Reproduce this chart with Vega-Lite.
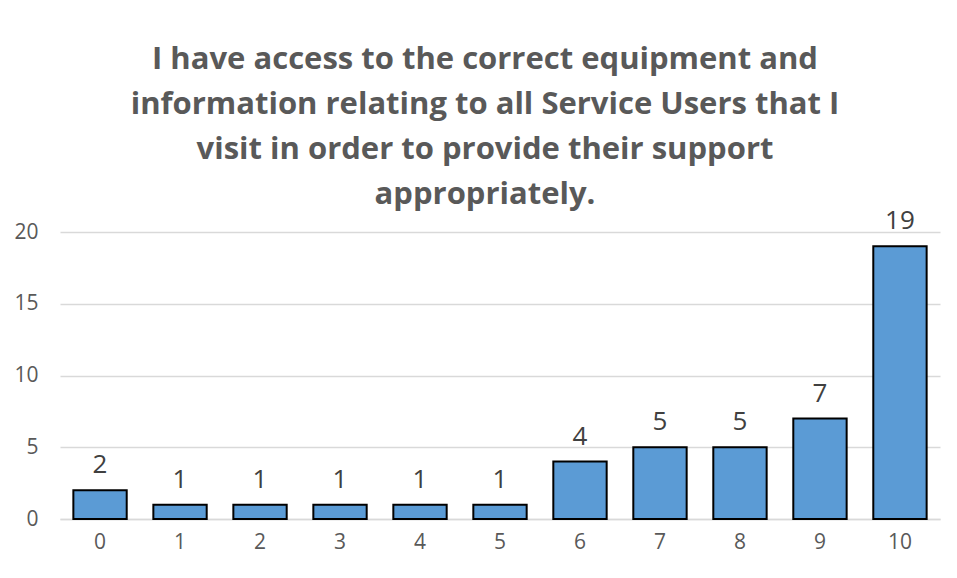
{
  "$schema": "https://vega.github.io/schema/vega-lite/v6.json",
  "autosize": {"type": "none"},
  "width": 880,
  "height": 287,
  "padding": {"left": 60, "top": 232, "right": 17, "bottom": 59},
  "background": "white",
  "title": {
    "text": ["I have access to the correct equipment and", "information relating to all Service Users that I", "visit in order to provide their support", "appropriately."],
    "font": "Open Sans",
    "fontSize": 31,
    "fontWeight": "bold",
    "color": "#595959",
    "lineHeight": 45,
    "anchor": "middle",
    "frame": "group",
    "offset": -3,
    "dx": -15
  },
  "data": {
    "values": [
      {"score": "0", "count": 2},
      {"score": "1", "count": 1},
      {"score": "2", "count": 1},
      {"score": "3", "count": 1},
      {"score": "4", "count": 1},
      {"score": "5", "count": 1},
      {"score": "6", "count": 4},
      {"score": "7", "count": 5},
      {"score": "8", "count": 5},
      {"score": "9", "count": 7},
      {"score": "10", "count": 19}
    ]
  },
  "encoding": {
    "x": {
      "field": "score", "type": "nominal", "sort": null,
      "scale": {"paddingInner": 0.333, "paddingOuter": 0.167},
      "axis": {"title": null, "labelAngle": 0, "labelFont": "Open Sans", "labelFontSize": 21, "labelColor": "#595959", "ticks": false, "labelPadding": 12, "domainColor": "#D9D9D9", "domainWidth": 1.5, "grid": false}
    },
    "y": {
      "field": "count", "type": "quantitative",
      "scale": {"domain": [0, 20]},
      "axis": {"title": null, "values": [0, 5, 10, 15, 20], "labelFont": "Open Sans", "labelFontSize": 21, "labelColor": "#595959", "ticks": false, "domain": false, "labelPadding": 22, "gridColor": "#D9D9D9", "gridWidth": 1.5}
    }
  },
  "layer": [
    {"mark": {"type": "bar", "fill": "#5B9BD5", "stroke": "black", "strokeWidth": 2}},
    {"mark": {"type": "text", "baseline": "bottom", "dy": -12, "font": "Open Sans", "fontSize": 26, "color": "#404040"}, "encoding": {"text": {"field": "count"}}}
  ],
  "config": {"view": {"stroke": null}}
}
